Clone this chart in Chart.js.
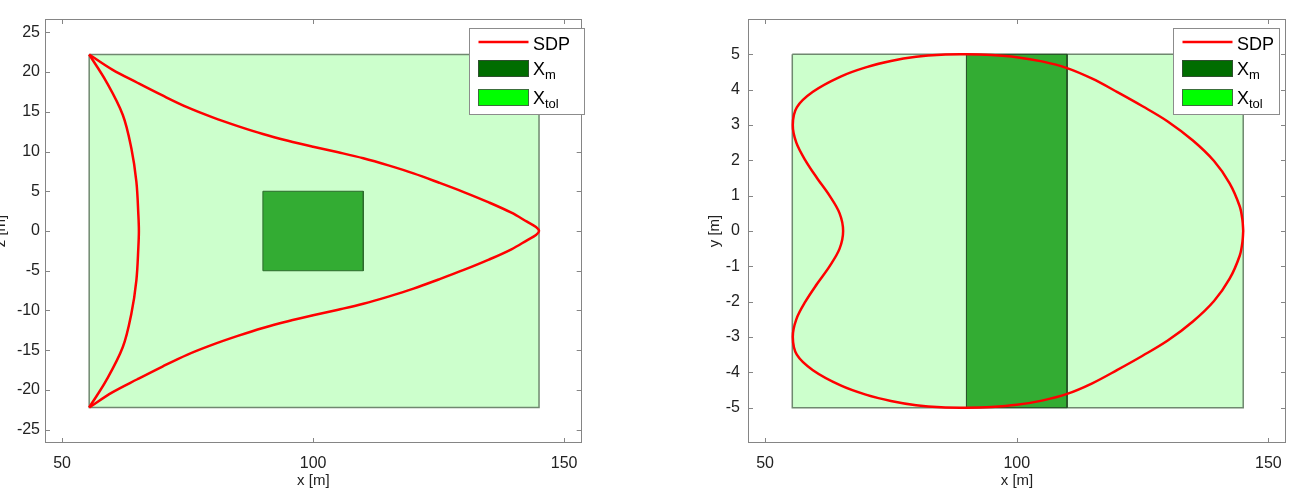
<!DOCTYPE html>
<html>
<head>
<meta charset="utf-8">
<script src="https://cdn.jsdelivr.net/npm/chart.js@4/dist/chart.umd.min.js"></script>
<style>
  body { margin: 0; background: #fff; width: 1293px; height: 495px; overflow: hidden; position: relative; }
  .box { position: absolute; top: 0; height: 495px; }
</style>
</head>
<body>
<div class="box" style="left:-8px;width:608px"><canvas id="chartXZ" width="608" height="495"></canvas></div>
<div class="box" style="left:690px;width:603px"><canvas id="chartXY" width="603" height="495"></canvas></div>
<script>
// axes
const xTicks = [50, 100, 150];
const zTicks = [-25, -20, -15, -10, -5, 0, 5, 10, 15, 20, 25];
const yTicks = [-5, -4, -3, -2, -1, 0, 1, 2, 3, 4, 5];
const xRange = [46.6, 153.5];
const zRange = [-26.67, 26.67];
const yRange = [-6, 6];

// regions
const tolX = [55.4, 145];
const tolZ = [-22.2, 22.2];
const tolY = [-5, 5];
const measX = [90, 110];
const measZ = [-5, 5];
const measY = [-5, 5];

// SDP, x-z plane: outer branch (top cusp -> tip -> bottom cusp) and inner branch
const sdpOuterX = [55.4, 60, 65, 70, 75, 80, 85, 90, 95, 100, 105, 110, 115, 120, 125, 130, 135, 139.5, 142.6, 144.4, 145,
                   144.4, 142.6, 139.5, 135, 130, 125, 120, 115, 110, 105, 100, 95, 90, 85, 80, 75, 70, 65, 60, 55.4];
const sdpOuterZ = [22.2, 20.3, 18.65, 17.05, 15.55, 14.3, 13.2, 12.2, 11.35, 10.6, 9.9, 9.15, 8.25, 7.25, 6.1, 4.9, 3.6, 2.3, 1.17, 0.5, 0,
                   -0.5, -1.17, -2.3, -3.6, -4.9, -6.1, -7.25, -8.25, -9.15, -9.9, -10.6, -11.35, -12.2, -13.2, -14.3, -15.55, -17.05, -18.65, -20.3, -22.2];
const sdpInnerX = [55.4, 58.8, 62.1, 63.8, 64.8, 65.2, 65.3, 65.2, 64.8, 63.8, 62.1, 58.8, 55.4];
const sdpInnerZ = [-22.2, -18.8, -14.6, -10.4, -6.2, -2.0, 0, 2.0, 6.2, 10.4, 14.6, 18.8, 22.2];

// SDP, x-y plane (closed)
const sdpX = [145, 144.85, 144.3, 142.3, 139.2, 135, 130, 125, 120, 115, 110, 105, 100, 95, 90, 85, 80, 75, 70, 65, 59.5, 56.3, 55.5, 56.2, 58, 60.3, 62.8, 64.8, 65.5,
              64.8, 62.8, 60.3, 58, 56.2, 55.5, 56.3, 59.5, 65, 70, 75, 80, 85, 90, 95, 100, 105, 110, 115, 120, 125, 130, 135, 139.2, 142.3, 144.3, 144.85, 145];
const sdpY = [0, 0.3, 0.7, 1.35, 1.98, 2.56, 3.1, 3.53, 3.93, 4.31, 4.61, 4.8, 4.92, 4.98, 5.0, 4.99, 4.93, 4.81, 4.63, 4.37, 3.94, 3.5, 3.0, 2.5, 2.0, 1.5, 1.0, 0.5, 0,
              -0.5, -1.0, -1.5, -2.0, -2.5, -3.0, -3.5, -3.94, -4.37, -4.63, -4.81, -4.93, -4.99, -5.0, -4.98, -4.92, -4.8, -4.61, -4.31, -3.93, -3.53, -3.1, -2.56, -1.98, -1.35, -0.7, -0.3, 0];

const pts = (xs, ys) => xs.map((v, i) => ({x: v, y: ys[i]}));
const rect = (xs, ys) => pts([xs[0], xs[1], xs[1], xs[0], xs[0]], [ys[1], ys[1], ys[0], ys[0], ys[1]]);

const FONT = '"Liberation Sans", Arial, sans-serif';
const TXT = '#222';

const sdpStyle = {borderColor: '#ff0000', borderWidth: 2.5, pointRadius: 0, showLine: true, tension: 0.35, fill: false};

// frame with inward ticks on all sides, plus the legend box
const frame = {
  id: 'frame',
  afterDatasetsDraw(chart) {
    const {ctx, chartArea: a, scales: {x, y}} = chart;
    ctx.save();
    ctx.strokeStyle = '#858585';
    ctx.lineWidth = 1;
    ctx.strokeRect(Math.round(a.left) + 0.5, Math.round(a.top) + 0.5, Math.round(a.right - a.left) - 1, Math.round(a.bottom - a.top) - 1);
    ctx.beginPath();
    x.ticks.forEach(t => {
      const p = Math.round(x.getPixelForValue(t.value)) + 0.5;
      ctx.moveTo(p, a.bottom); ctx.lineTo(p, a.bottom - 5);
      ctx.moveTo(p, a.top); ctx.lineTo(p, a.top + 5);
    });
    y.ticks.forEach(t => {
      const p = Math.round(y.getPixelForValue(t.value)) + 0.5;
      ctx.moveTo(a.left, p); ctx.lineTo(a.left + 5, p);
      ctx.moveTo(a.right, p); ctx.lineTo(a.right - 5, p);
    });
    ctx.stroke();
    ctx.restore();
  },
  afterDraw(chart) {
    const o = chart.options.plugins.frame;
    const {ctx, chartArea: a} = chart;
    const bx = Math.round(a.right + o.dx), by = 28, bw = o.w, bh = 86;
    ctx.save();
    ctx.fillStyle = '#fff';
    ctx.fillRect(bx, by, bw, bh);
    ctx.strokeStyle = '#8c8c8c';
    ctx.lineWidth = 1;
    ctx.strokeRect(bx + 0.5, by + 0.5, bw, bh);
    const sx = bx + 9.5;
    ctx.strokeStyle = '#ff0000';
    ctx.lineWidth = 2.5;
    ctx.beginPath(); ctx.moveTo(sx, by + 14); ctx.lineTo(sx + 50, by + 14); ctx.stroke();
    ctx.lineWidth = 1;
    ctx.fillStyle = '#006d00'; ctx.fillRect(sx, by + 32.5, 50, 16);
    ctx.strokeStyle = '#2f4f2f'; ctx.strokeRect(sx, by + 32.5, 50, 16);
    ctx.fillStyle = '#00ff00'; ctx.fillRect(sx, by + 61.5, 50, 16);
    ctx.strokeStyle = '#3c6e3c'; ctx.strokeRect(sx, by + 61.5, 50, 16);
    ctx.fillStyle = '#000';
    ctx.textBaseline = 'alphabetic';
    ctx.font = '18px ' + FONT;
    ctx.fillText('SDP', bx + 64, by + 22);
    ctx.fillText('X', bx + 64, by + 46.5);
    ctx.fillText('X', bx + 64, by + 75.5);
    ctx.font = '13px ' + FONT;
    ctx.fillText('m', bx + 76, by + 50.5);
    ctx.fillText('tol', bx + 76, by + 80);
    ctx.restore();
  }
};

function axis(range, ticks, fit, extra) {
  return Object.assign({
    type: 'linear',
    min: range[0],
    max: range[1],
    afterBuildTicks: s => { s.ticks = ticks.map(v => ({value: v})); },
    afterFit: fit,
    grid: {display: false, drawTicks: false, tickLength: 0},
    border: {display: false},
  }, extra);
}

function makeChart(id, datasets, yRng, yTk, yTitle, opt) {
  return new Chart(document.getElementById(id), {
    type: 'scatter',
    data: {datasets: datasets},
    options: {
      responsive: false,
      animation: false,
      layout: {padding: {top: 19, right: opt.padRight, left: 0, bottom: 0}},
      plugins: {
        legend: {display: false},
        tooltip: {enabled: false},
        frame: {dx: opt.legendDx, w: opt.legendW},
      },
      scales: {
        x: axis(xRange, xTicks, s => { s.height = 52; }, {
          ticks: {padding: 11, autoSkip: false, maxRotation: 0, color: TXT, font: {family: FONT, size: 16}},
          title: {display: true, text: 'x [m]', color: TXT, padding: {top: 0, bottom: 5}, font: {family: FONT, size: 15}},
        }),
        y: axis(yRng, yTk, s => { s.width = opt.yWidth; }, {
          ticks: {padding: opt.yPad, autoSkip: false, color: TXT, font: {family: FONT, size: 16}},
          title: {display: true, text: yTitle, color: TXT, padding: {top: opt.titlePad, bottom: 0}, font: {family: FONT, size: 15}},
        }),
      },
    },
    plugins: [frame],
  });
}

makeChart('chartXZ', [
  Object.assign({label: 'SDP', data: pts(sdpOuterX, sdpOuterZ)}, sdpStyle),
  Object.assign({label: 'SDP inner', data: pts(sdpInnerX, sdpInnerZ)}, sdpStyle),
  {label: 'X_m', data: rect(measX, measZ), showLine: true, fill: 'shape', tension: 0, pointRadius: 0,
   backgroundColor: '#33ac33', borderColor: '#2d6a2d', borderWidth: 1},
  {label: 'X_tol', data: rect(tolX, tolZ), showLine: true, fill: 'shape', tension: 0, pointRadius: 0,
   backgroundColor: '#ccffcc', borderColor: '#6f886f', borderWidth: 1.5},
], zRange, zTicks, 'z [m]', {padRight: 18.3, yWidth: 53, yPad: 5, titlePad: 0, legendDx: -112.7, legendW: 115});

makeChart('chartXY', [
  Object.assign({label: 'SDP', data: pts(sdpX, sdpY)}, sdpStyle),
  {label: 'X_m', data: rect(measX, measY), showLine: true, fill: 'shape', tension: 0, pointRadius: 0,
   backgroundColor: '#33ac33', borderColor: '#244a24', borderWidth: 1},
  {label: 'X_tol', data: rect(tolX, tolY), showLine: true, fill: 'shape', tension: 0, pointRadius: 0,
   backgroundColor: '#ccffcc', borderColor: '#6f886f', borderWidth: 1.5},
], yRange, yTicks, 'y [m]', {padRight: 7, yWidth: 58, yPad: 8, titlePad: 16, legendDx: -113.3, legendW: 106});
</script>
</body>
</html>
